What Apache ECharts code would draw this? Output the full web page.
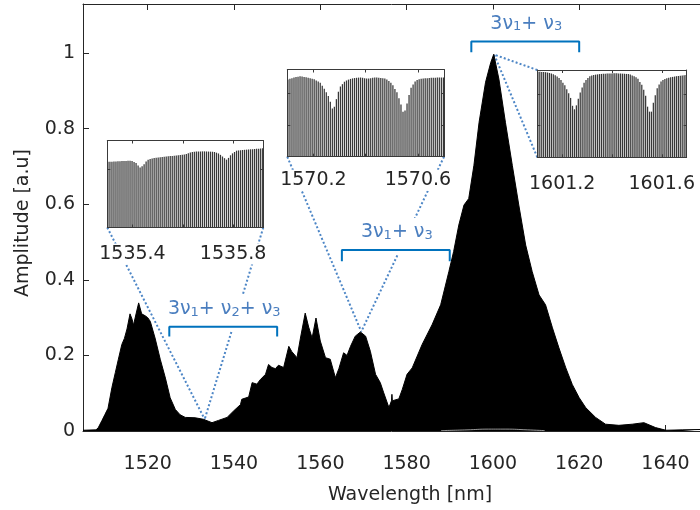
<!DOCTYPE html>
<html><head><meta charset="utf-8">
<script src="https://cdn.jsdelivr.net/npm/echarts@6/dist/echarts.min.js"></script>
<style>html,body{margin:0;padding:0;background:#fff}#c{width:700px;height:510px}</style>
</head><body><div id="c"></div>
<script>
const FONT = 'DejaVu Sans';
const AX = '#262626';
const BOX = '#3a3a3a';
const BLUE_TXT = '#4a7ebf';
const BLUE_BR = '#0072BD';
const BLUE_DOT = '#4d86c6';

// ---- main spectrum (envelope) ----
const wavelength = [
  1505, 1508, 1508.5, 1509.4, 1510.1, 1510.8, 1511.7, 1512.5, 1513.2, 1514.0,
  1514.6, 1515.2, 1515.9, 1516.4, 1516.7, 1517.3, 1517.9, 1518.6, 1519.4, 1520.0,
  1520.6, 1521.7, 1522.9, 1524.1, 1525.2, 1526.4, 1527.5, 1528.7, 1531.0, 1532.9,
  1534.9, 1536.4, 1538.4, 1539.9, 1541.5, 1541.8, 1543.4, 1544.2, 1545.3, 1546.1,
  1547.3, 1548.0, 1548.8, 1549.6, 1550.3, 1551.5, 1552.7, 1553.4, 1554.6, 1555.4,
  1556.5, 1557.3, 1558.1, 1559.0, 1560.0, 1561.2, 1562.3, 1563.5, 1564.3, 1565.4,
  1566.2, 1567.0, 1568.1, 1569.3, 1570.5, 1571.6, 1572.8, 1573.9, 1574.7, 1575.9,
  1576.5, 1576.6, 1576.7, 1578.2, 1579.0, 1580.1, 1581.3, 1583.6, 1585.9, 1587.9,
  1589.8, 1590.9, 1592.1, 1593.3, 1594.4, 1595.6, 1596.8, 1598.3, 1599.5, 1600.2,
  1601.4, 1602.9, 1604.5, 1606.0, 1607.6, 1609.1, 1610.7, 1612.2, 1613.8, 1615.3,
  1616.9, 1618.4, 1620.0, 1621.5, 1623.8, 1626.1, 1629.2, 1632.3, 1635.0, 1637.7,
  1640.1, 1644, 1648
];
const amplitude = [
  0.002, 0.003, 0.008, 0.028, 0.044, 0.060, 0.115, 0.155, 0.190, 0.229,
  0.245, 0.270, 0.310, 0.295, 0.280, 0.310, 0.339, 0.310, 0.305, 0.300,
  0.290, 0.246, 0.190, 0.140, 0.088, 0.057, 0.043, 0.036, 0.035, 0.031,
  0.022, 0.028, 0.036, 0.053, 0.070, 0.084, 0.090, 0.128, 0.124, 0.136,
  0.150, 0.176, 0.168, 0.165, 0.174, 0.168, 0.224, 0.210, 0.194, 0.246,
  0.312, 0.275, 0.246, 0.299, 0.238, 0.194, 0.190, 0.141, 0.165, 0.207,
  0.200, 0.224, 0.251, 0.262, 0.251, 0.211, 0.150, 0.128, 0.101, 0.062,
  0.080, 0.097, 0.080, 0.085, 0.110, 0.150, 0.167, 0.229, 0.281, 0.334,
  0.422, 0.475, 0.545, 0.598, 0.615, 0.703, 0.817, 0.923, 0.975, 0.997,
  0.931, 0.817, 0.703, 0.598, 0.492, 0.422, 0.360, 0.334, 0.273, 0.220,
  0.167, 0.123, 0.088, 0.062, 0.036, 0.018, 0.015, 0.018, 0.022, 0.009,
  0.002, 0.003, 0.004
];
// faint white lower trace near the main peak
const floorWavelength = [1588, 1594, 1599, 1603, 1608, 1612];
const floorAmplitude  = [0.001, 0.003, 0.005, 0.005, 0.003, 0.001];

const xTicks = [1520, 1540, 1560, 1580, 1600, 1620, 1640];
const yTicks = [0, 0.2, 0.4, 0.6, 0.8, 1];

// ---- insets: comb-line heights (fraction of inset height) ----
const inset1Range = [1535.30, 1535.92];
const inset1Ticks = [1535.4, 1535.6, 1535.8];
const inset1Labels = [1535.4, 1535.8];
const inset1YTicks = [0.667];
const inset1Heights = [
  .755,.756,.757,.758,.760,.761,.762,.763,.764,.765,
  .766,.767,.763,.752,.740,.712,.690,.705,.728,.758,
  .780,.788,.794,.798,.801,.804,.807,.810,.813,.816,
  .818,.821,.823,.825,.828,.830,.833,.835,.839,.846,
  .853,.862,.868,.872,.873,.874,.875,.875,.875,.874,
  .873,.872,.871,.868,.860,.851,.835,.816,.797,.780,
  .800,.830,.852,.868,.883,.886,.888,.891,.893,.895,
  .897,.899,.900,.902,.904,.906,.908,.910
];

const inset2Range = [1570.10, 1570.70];
const inset2Ticks = [1570.2, 1570.4, 1570.6];
const inset2Labels = [1570.2, 1570.6];
const inset2YTicks = [0.363, 0.725];
const inset2Heights = [
  .885,.893,.900,.908,.913,.918,.923,.920,.915,.910,
  .905,.900,.894,.887,.875,.862,.847,.815,.780,.740,
  .697,.630,.553,.573,.660,.745,.805,.832,.860,.874,
  .884,.892,.898,.902,.905,.907,.908,.905,.900,.898,
  .897,.900,.904,.907,.908,.906,.903,.900,.897,.885,
  .868,.847,.818,.777,.738,.670,.600,.515,.530,.610,
  .708,.790,.828,.862,.880,.887,.893,.897,.899,.900,
  .902,.904,.905,.906,.907,.907,.908,.908
];

const inset3Range = [1601.10, 1601.70];
const inset3Ticks = [1601.2, 1601.4, 1601.6];
const inset3Labels = [1601.2, 1601.6];
const inset3YTicks = [0.363, 0.725];
const inset3Heights = [
  .981,.980,.978,.977,.975,.971,.966,.960,.952,.940,
  .925,.908,.885,.855,.825,.780,.735,.680,.590,.550,
  .595,.670,.742,.800,.855,.885,.908,.928,.938,.943,
  .947,.950,.953,.955,.957,.958,.959,.960,.961,.962,
  .962,.962,.961,.959,.958,.957,.955,.954,.948,.938,
  .928,.918,.900,.862,.830,.775,.705,.580,.523,.523,
  .625,.712,.790,.835,.868,.885,.898,.905,.912,.917,
  .921,.925,.929,.932,.935,.938,.940,.943
];

// spectrum points where the dotted zoom lines meet
const zoomTargets = [[1533.2, 0.031], [1569.5, 0.263], [1600.3, 0.996]];

// brackets: [start, end, bottom, top] and labels
const brackets = [
  {from: 1525, to: 1550, low: 0.250, high: 0.276, text: '{n|3ν}{s|1}{n|+ ν}{s|2}{n|+ ν}{s|3}'},
  {from: 1565, to: 1590, low: 0.449, high: 0.479, text: '{n|3ν}{s|1}{n|+ ν}{s|3}'},
  {from: 1595, to: 1620, low: 1.002, high: 1.031, text: '{n|3ν}{s|1}{n|+ ν}{s|3}'}
];

// ---------------------------------------------------------------
const font = {fontFamily: FONT, fontSize: 19, color: AX};
const plain = v => String(Math.round(v * 1000) / 1000);

function combData(range, heights) {
  const n = heights.length;
  const pad = (range[1] - range[0]) * 0.004;
  const step = (range[1] - range[0] - 2 * pad) / (n - 1);
  return heights.map((h, i) => [range[0] + pad + i * step, h]);
}

const grids = [
  {left: 83, top: 4, right: 0, height: 429.5},
  {left: 107.3, top: 140.5, width: 156, height: 87},
  {left: 287.3, top: 69.5, width: 156.7, height: 87.2},
  {left: 537.3, top: 70, width: 156.7, height: 87.3}
];

const xAxes = [
  {type: 'value', gridIndex: 0, min: 1505, max: 1648,
   axisLine: {show: true, onZero: false, lineStyle: {color: AX}},
   axisTick: {show: true, inside: true, length: 6, customValues: xTicks, lineStyle: {color: AX}},
   axisLabel: Object.assign({customValues: xTicks, margin: 24, formatter: plain}, font),
   splitLine: {show: false},
   name: 'Wavelength [nm]', nameLocation: 'middle', nameGap: 55,
   nameTextStyle: {fontFamily: FONT, fontSize: 19, color: AX, padding: [0, 0, 0, 37]}},
  {type: 'value', gridIndex: 0, position: 'top', min: 1505, max: 1648,
   axisLine: {show: true, onZero: false, lineStyle: {color: AX}},
   axisTick: {show: true, inside: true, length: 6, customValues: xTicks, lineStyle: {color: AX}},
   axisLabel: {show: false}, splitLine: {show: false}}
];
const yAxes = [
  {type: 'value', gridIndex: 0, min: 0, max: 1.13,
   axisLine: {show: true, onZero: false, lineStyle: {color: AX}},
   axisTick: {show: true, inside: true, length: 6, customValues: yTicks, lineStyle: {color: AX}},
   axisLabel: Object.assign({customValues: yTicks, margin: 8, formatter: plain}, font),
   splitLine: {show: false},
   name: 'Amplitude [a.u]', nameLocation: 'middle', nameGap: 50,
   nameTextStyle: {fontFamily: FONT, fontSize: 19, color: AX, padding: [0, 11, 0, 0]}}
];

const insets = [
  {range: inset1Range, ticks: inset1Ticks, labels: inset1Labels, yt: inset1YTicks, h: inset1Heights, m: 16},
  {range: inset2Range, ticks: inset2Ticks, labels: inset2Labels, yt: inset2YTicks, h: inset2Heights, m: 13},
  {range: inset3Range, ticks: inset3Ticks, labels: inset3Labels, yt: inset3YTicks, h: inset3Heights, m: 16}
];

const series = [
  {type: 'line', name: 'spectrum', xAxisIndex: 0, yAxisIndex: 0, z: 2,
   data: wavelength.map((w, i) => [w, amplitude[i]]),
   showSymbol: false, symbol: 'none', lineStyle: {color: '#000', width: 1},
   areaStyle: {color: '#000', opacity: 1}, silent: true},
  {type: 'line', name: 'floor', xAxisIndex: 0, yAxisIndex: 0, z: 3,
   data: floorWavelength.map((w, i) => [w, floorAmplitude[i]]),
   symbol: 'none', smooth: true, lineStyle: {color: '#ffffff', width: 1, opacity: 0.6}, silent: true}
];

insets.forEach((ins, k) => {
  const gi = k + 1;
  const xb = xAxes.length;
  const line = {show: true, onZero: false, lineStyle: {color: BOX}};
  xAxes.push({type: 'value', gridIndex: gi, min: ins.range[0], max: ins.range[1], z: 3,
    axisLine: line,
    axisTick: {show: true, inside: true, length: 3, customValues: ins.ticks, lineStyle: {color: BOX}},
    axisLabel: Object.assign({customValues: ins.labels, margin: ins.m, formatter: v => v.toFixed(1),
      backgroundColor: '#fff', padding: [1, 2]}, font),
    splitLine: {show: false}});
  xAxes.push({type: 'value', gridIndex: gi, position: 'top', min: ins.range[0], max: ins.range[1], z: 3,
    axisLine: line,
    axisTick: {show: true, inside: true, length: 3, customValues: ins.ticks, lineStyle: {color: BOX}},
    axisLabel: {show: false}, splitLine: {show: false}});
  const yb = yAxes.length;
  yAxes.push({type: 'value', gridIndex: gi, min: 0, max: 1, z: 3,
    axisLine: line,
    axisTick: {show: true, inside: true, length: 3, customValues: ins.yt, lineStyle: {color: BOX}},
    axisLabel: {show: false}, splitLine: {show: false}});
  yAxes.push({type: 'value', gridIndex: gi, position: 'right', min: 0, max: 1, z: 3,
    axisLine: line,
    axisTick: {show: true, inside: true, length: 3, customValues: ins.yt, lineStyle: {color: BOX}},
    axisLabel: {show: false}, splitLine: {show: false}});
  series.push({type: 'bar', name: 'inset' + gi, xAxisIndex: xb, yAxisIndex: yb,
    data: combData(ins.range, ins.h), barWidth: 1.25,
    itemStyle: {color: '#383838'}, silent: true, z: 2});
});

const bracketSeriesStart = series.length;
brackets.forEach(b => {
  series.push({type: 'line', xAxisIndex: 0, yAxisIndex: 0, z: 5, symbol: 'none', silent: true,
    data: [[b.from, b.low], [b.from, b.high], [b.to, b.high], [b.to, b.low]],
    lineStyle: {color: BLUE_BR, width: 2}});
});

const chart = echarts.init(document.getElementById('c'), null, {renderer: 'canvas'});
chart.setOption({
  animation: false,
  backgroundColor: '#fff',
  grid: grids,
  xAxis: xAxes,
  yAxis: yAxes,
  series: series
});

// dotted zoom lines + bracket labels
const graphics = [];
const toPx = (si, pt) => chart.convertToPixel({seriesIndex: si}, pt);
insets.forEach((ins, k) => {
  const si = 2 + k;
  const target = toPx(0, zoomTargets[k]);
  let corners;
  if (k < 2) corners = [[ins.range[0], 0], [ins.range[1], 0]];
  else corners = [[ins.range[0], 1], [ins.range[0], 0]];
  corners.forEach(c => {
    const p = toPx(si, c);
    graphics.push({type: 'line', z: 1, silent: true,
      shape: {x1: p[0], y1: p[1], x2: target[0], y2: target[1]},
      style: {stroke: BLUE_DOT, lineWidth: 2, lineDash: [2, 2.2]}});
  });
});
brackets.forEach((b, k) => {
  const p = toPx(bracketSeriesStart + k, [(b.from + b.to) / 2, b.high]);
  graphics.push({type: 'text', z: 3, silent: true, x: p[0] + 1, y: p[1] + 4,
    style: {text: b.text, align: 'center', verticalAlign: 'bottom',
      textAlign: 'center', textVerticalAlign: 'bottom',
      backgroundColor: '#fff', padding: [2, 3, 12, 3],
      fill: BLUE_TXT, fontFamily: FONT, fontSize: 19,
      rich: {
        n: {fill: BLUE_TXT, fontFamily: FONT, fontSize: 19, lineHeight: 22, verticalAlign: 'bottom'},
        s: {fill: BLUE_TXT, fontFamily: FONT, fontSize: 13, lineHeight: 5, verticalAlign: 'bottom'}
      }}});
});
chart.setOption({graphic: graphics});
</script>
</body></html>
